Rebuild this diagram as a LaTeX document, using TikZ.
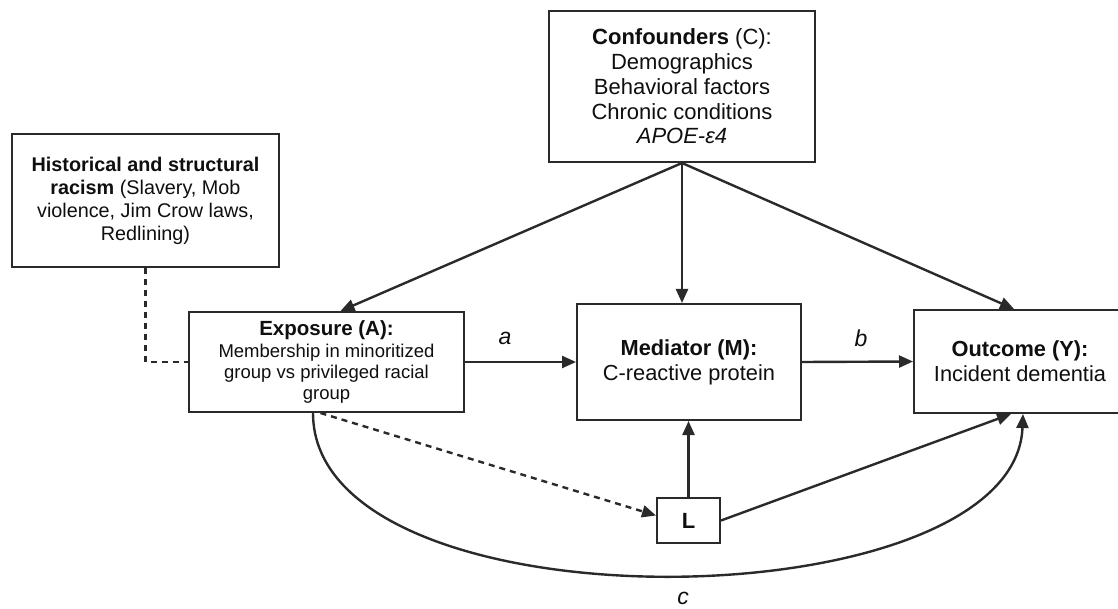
\documentclass[tikz,border=0pt]{standalone}
\usepackage{fontspec}
\setmainfont{Liberation Sans}
\usetikzlibrary{arrows.meta}
\definecolor{linec}{HTML}{2A2A2A}
\definecolor{txt}{HTML}{0F0F0F}
\begin{document}
\begin{tikzpicture}[x=1pt,y=-1pt,
 box/.style={draw=linec, line width=2pt, fill=white, inner sep=0pt, align=center, text=txt},
 conn/.style={draw=linec, line width=2.4pt, -{Triangle[length=14pt,width=12pt]}},
 dashline/.style={draw=linec, line width=2.4pt, dash pattern=on 6pt off 5pt},
 dashconn/.style={conn, dash pattern=on 6pt off 5pt},
 lab/.style={font=\fontsize{23}{25}\selectfont\itshape, text=txt, inner sep=0pt}]
\useasboundingbox (0,0) rectangle (1118,609);

\node[box, minimum width=266pt, minimum height=151pt, font=\fontsize{22}{24.75}\selectfont] (C) at (682,86.5)
  {\textbf{Confounders} (C):\\Demographics\\Behavioral factors\\Chronic conditions\\\textit{APOE-ε4}};
\node[box, minimum width=267pt, minimum height=133pt, font=\fontsize{19.8}{23}\selectfont] (H) at (145.5,200.5)
  {\textbf{Historical and structural}\\\textbf{racism} (Slavery, Mob\\violence, Jim Crow laws,\\Redlining)};
\node[box, minimum width=275pt, minimum height=100pt, font=\fontsize{18.5}{21}\selectfont] (A) at (326.5,362)
  {{\fontsize{20.5}{23}\selectfont\textbf{Exposure (A):}}\\[1pt]Membership in minoritized\\group vs privileged racial\\group};
\node[box, minimum width=224pt, minimum height=116pt, font=\fontsize{21.8}{25}\selectfont] (M) at (689,362)
  {\textbf{Mediator (M):}\\C-reactive protein};
\node[box, minimum width=212pt, minimum height=103pt, font=\fontsize{21.8}{25}\selectfont] (Y) at (1020,361.5)
  {\textbf{Outcome (Y):}\\Incident dementia};
\node[box, minimum width=63pt, minimum height=45pt, font=\fontsize{22}{24}\selectfont\bfseries] (L) at (688.5,520.5) {L};

\node[lab] (la) at (505,338) {a};
\node[lab] (lb) at (861,338) {b};
\node[lab] (lc) at (683,598) {c};

\draw[conn] (C.south) -- ([xshift=14pt]A.north);
\draw[conn] (C.south) -- (C.south |- M.north);
\draw[conn] (C.south) -- ([xshift=-6pt]Y.north);
\draw[conn] (A.east) -- (M.west);
\draw[conn] (M.east) -- (Y.west);
\draw[dashline] (H.south) |- (A.west);
\draw[dashconn] ([xshift=-6pt]A.south) -- ([yshift=5pt]L.west);
\draw[conn] (L.north) -- (L.north |- M.south);
\draw[conn] (L.east) -- ([xshift=-9pt]Y.south);
\draw[conn] ([xshift=-13.5pt]A.south) .. controls (313,634) and (1015,624) .. ([xshift=3pt]Y.south);
\end{tikzpicture}
\end{document}
